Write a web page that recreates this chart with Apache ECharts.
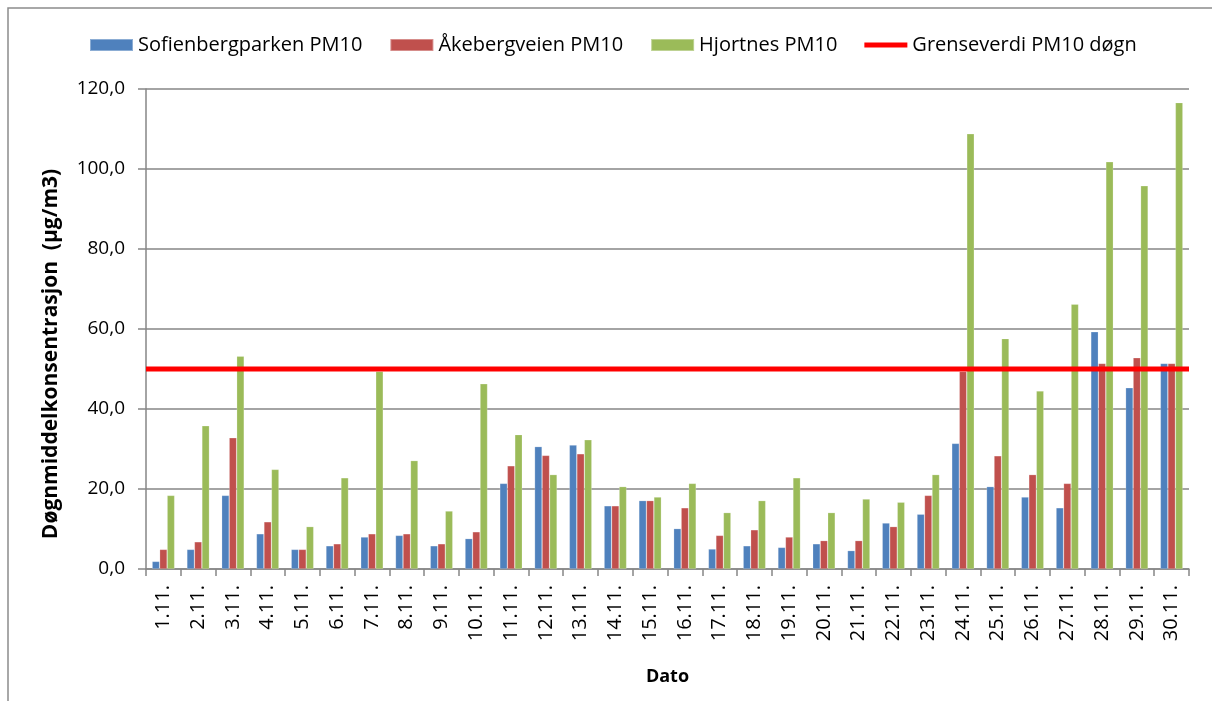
<!DOCTYPE html>
<html>
<head>
<meta charset="utf-8">
<script src="https://cdn.jsdelivr.net/npm/echarts@6/dist/echarts.min.js"></script>
<style>
html,body{margin:0;padding:0;background:#fff;}
#main{width:1212px;height:701px;}
</style>
</head>
<body>
<div id="main"></div>
<script>
// dager i november
var dates = ['1.11.','2.11.','3.11.','4.11.','5.11.','6.11.','7.11.','8.11.','9.11.','10.11.',
	'11.11.','12.11.','13.11.','14.11.','15.11.','16.11.','17.11.','18.11.','19.11.','20.11.',
	'21.11.','22.11.','23.11.','24.11.','25.11.','26.11.','27.11.','28.11.','29.11.','30.11.'];
var sofienberg = [1.9,4.9,18.4,8.8,4.9,5.8,8.0,8.4,5.8,7.6,
	21.4,30.6,31.0,15.8,17.1,10.1,5.0,5.8,5.4,6.3,
	4.6,11.5,13.7,31.4,20.6,18.0,15.3,59.3,45.3,51.4];
var akeberg = [4.9,6.8,32.8,11.8,4.9,6.3,8.8,8.8,6.3,9.3,
	25.8,28.4,28.8,15.8,17.1,15.3,8.4,9.8,8.0,7.1,
	7.1,10.6,18.4,49.4,28.3,23.6,21.4,51.4,52.8,51.4];
var hjortnes = [18.4,35.8,53.2,24.9,10.6,22.8,49.4,27.1,14.5,46.3,
	33.6,23.6,32.3,20.6,18.0,21.4,14.1,17.1,22.8,14.1,
	17.5,16.7,23.6,108.8,57.6,44.5,66.2,101.8,95.8,116.6];
var grenseverdi = 50;
var yTicks = [0,20,40,60,80,100,120];

var fontFam = 'Open Sans';
var myChart = echarts.init(document.getElementById('main'));

function barSeries(name, data, color){
	return {
		name: name,
		type: 'bar',
		data: data,
		barWidth: 7.5,
		barGap: '0%',
		itemStyle: {color: color, borderColor: 'rgba(255,255,255,0.35)', borderWidth: 0.6}
	};
}

var option = {
	backgroundColor: '#fff',
	animation: false,
	textStyle: {fontFamily: fontFam},
	graphic: [{
		type: 'polyline',
		shape: {points: [[8,701],[8,8],[1212,8]]},
		style: {stroke: '#8c8c8c', lineWidth: 1.5, fill: null}
	}, {
		// y-aksens tittel
		type: 'text',
		x: 51,
		y: 354,
		rotation: Math.PI / 2,
		style: {
			text: 'Døgnmiddelkonsentrasjon  (µg/m3)',
			font: 'bold 21px "Open Sans"',
			fill: '#000',
			align: 'center',
			verticalAlign: 'middle'
		}
	}],
	legend: {
		top: 30,
		left: 84,
		itemWidth: 43,
		itemHeight: 12,
		itemGap: 27,
		textStyle: {fontSize: 20, color: '#000', fontFamily: fontFam},
		data: [
			{name: 'Sofienbergparken PM10', icon: 'rect'},
			{name: 'Åkebergveien PM10', icon: 'rect'},
			{name: 'Hjortnes PM10', icon: 'rect'},
			{name: 'Grenseverdi PM10 døgn', icon: 'path://M0,0H43V5H0Z'}
		]
	},
	grid: {left: 146, top: 89, width: 1043, height: 480},
	xAxis: [{
		type: 'category',
		data: dates,
		name: 'Dato',
		nameLocation: 'middle',
		nameGap: 99,
		nameTextStyle: {fontSize: 18, fontWeight: 'bold', color: '#000'},
		axisLine: {lineStyle: {color: '#868686', width: 1.5}},
		axisTick: {show: true, length: 7, lineStyle: {color: '#868686', width: 1.5}},
		axisLabel: {rotate: 90, fontSize: 20, color: '#000', margin: 16, interval: 0}
	}, {
		type: 'category',
		data: dates,
		show: false,
		boundaryGap: false
	}],
	yAxis: {
		type: 'value',
		min: 0,
		max: 120,
		interval: 20,
		axisLine: {show: true, lineStyle: {color: '#868686', width: 1.5}},
		axisTick: {show: true, length: 8, lineStyle: {color: '#868686', width: 1.5}},
		axisLabel: {
			fontSize: 19, color: '#000', margin: 21,
			formatter: function(v){ return yTicks.indexOf(v) >= 0 ? v.toFixed(1).replace('.', ',') : ''; }
		},
		splitLine: {lineStyle: {color: '#868686', width: 1.5}}
	},
	series: [
		barSeries('Sofienbergparken PM10', sofienberg, '#4F81BD'),
		barSeries('Åkebergveien PM10', akeberg, '#C0504D'),
		barSeries('Hjortnes PM10', hjortnes, '#9BBB59'),
		{
			name: 'Grenseverdi PM10 døgn',
			type: 'line',
			xAxisIndex: 1,
			data: dates.map(function(){ return grenseverdi; }),
			symbol: 'none',
			lineStyle: {color: '#FF0000', width: 5},
			itemStyle: {color: '#FF0000'},
			z: 5
		}
	]
};
myChart.setOption(option);
</script>
</body>
</html>
